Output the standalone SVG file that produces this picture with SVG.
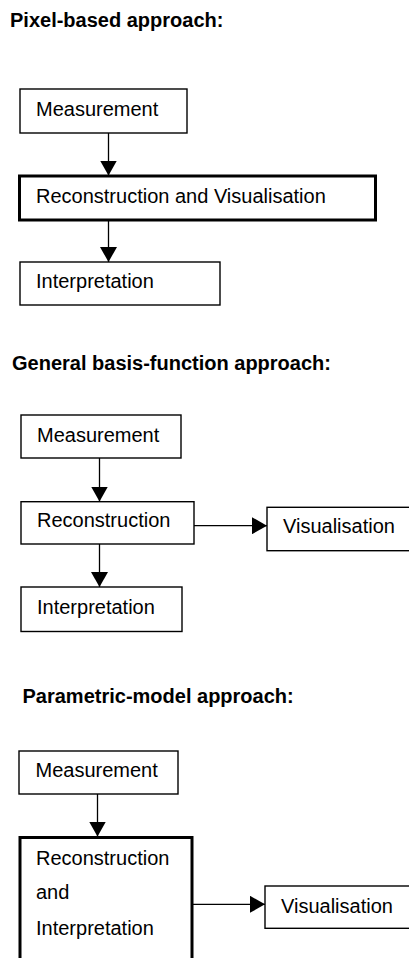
<svg xmlns="http://www.w3.org/2000/svg" width="409" height="958" viewBox="0 0 409 958">
<style>
.t{font-family:"Liberation Sans",Arial,sans-serif;font-size:20px;fill:#000}
.h{font-family:"Liberation Sans",Arial,sans-serif;font-size:20px;font-weight:bold;fill:#000}
.b{fill:#fff;stroke:#000;stroke-width:1.4}
.bt{fill:#fff;stroke:#000;stroke-width:3}
.c{stroke:#000;stroke-width:1.3;fill:none}
</style>
<defs>
<marker id="ah" viewBox="0 0 15 17" refX="15" refY="8.5" markerWidth="15" markerHeight="17" markerUnits="userSpaceOnUse" orient="auto">
<path d="M0,0 L15,8.5 L0,17 Z" fill="#000"/>
</marker>
</defs>
<rect width="409" height="958" fill="#fff"/>

<text class="h" x="10" y="27">Pixel-based approach:</text>
<text class="h" x="12" y="370">General basis-function approach:</text>
<text class="h" x="22.5" y="703">Parametric-model approach:</text>

<g id="connectors">
<line class="c" x1="108.5" y1="133" x2="108.5" y2="175.5" marker-end="url(#ah)"/>
<line class="c" x1="108.5" y1="220" x2="108.5" y2="262" marker-end="url(#ah)"/>
<line class="c" x1="99.5" y1="458" x2="99.5" y2="501.5" marker-end="url(#ah)"/>
<line class="c" x1="99.5" y1="544" x2="99.5" y2="587" marker-end="url(#ah)"/>
<line class="c" x1="194" y1="525.7" x2="267" y2="525.7" marker-end="url(#ah)"/>
<line class="c" x1="97.5" y1="794" x2="97.5" y2="836.5" marker-end="url(#ah)"/>
<line class="c" x1="193" y1="904.3" x2="265" y2="904.3" marker-end="url(#ah)"/>
</g>

<g id="p-measurement">
<rect class="b" x="20" y="89" width="167" height="44"/>
<text class="t" x="36" y="116">Measurement</text>
</g>
<g id="p-recvis">
<rect class="bt" x="19.5" y="176" width="356" height="44"/>
<text class="t" x="36" y="203">Reconstruction and Visualisation</text>
</g>
<g id="p-interp">
<rect class="b" x="20" y="262" width="200" height="43"/>
<text class="t" x="36" y="287.5">Interpretation</text>
</g>

<g id="g-measurement">
<rect class="b" x="21" y="415" width="160" height="43"/>
<text class="t" x="37" y="441.5">Measurement</text>
</g>
<g id="g-recon">
<rect class="b" x="21" y="501.7" width="173" height="42.3"/>
<text class="t" x="37" y="527">Reconstruction</text>
</g>
<g id="g-vis">
<rect class="b" x="267" y="507.3" width="150" height="43.4"/>
<text class="t" x="283" y="533">Visualisation</text>
</g>
<g id="g-interp">
<rect class="b" x="21" y="587" width="161" height="44.5"/>
<text class="t" x="37" y="614">Interpretation</text>
</g>

<g id="m-measurement">
<rect class="b" x="19" y="751" width="159" height="43"/>
<text class="t" x="35.5" y="777">Measurement</text>
</g>
<g id="m-recint">
<rect class="bt" x="20" y="837.5" width="172" height="140"/>
<text class="t" x="36" y="865">Reconstruction</text>
<text class="t" x="36" y="899">and</text>
<text class="t" x="36" y="935">Interpretation</text>
</g>
<g id="m-vis">
<rect class="b" x="265" y="886" width="152" height="42.3"/>
<text class="t" x="281" y="912.5">Visualisation</text>
</g>
</svg>
